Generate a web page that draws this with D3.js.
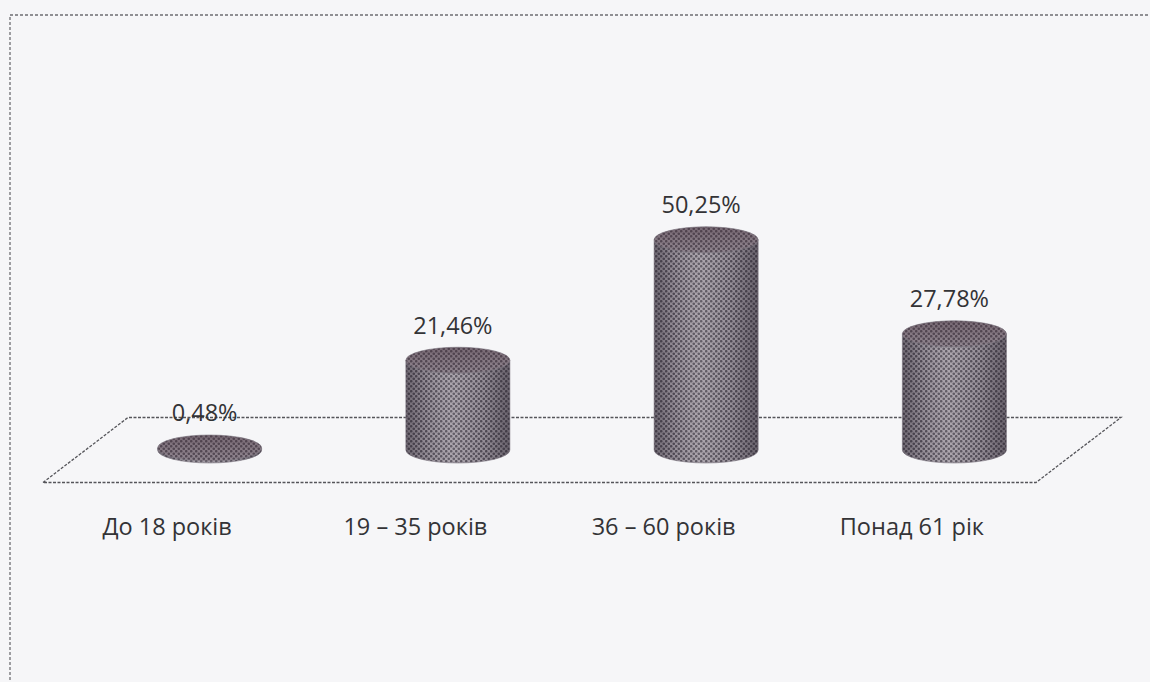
<!DOCTYPE html>
<html>
<head>
<meta charset="utf-8">
<script src="https://cdn.jsdelivr.net/npm/d3@7"></script>
<style>
  body { margin: 0; background: #f6f6f8; }
  #chart text { font-family: "Open Sans", sans-serif; fill: #333336; }
</style>
</head>
<body>
<div id="chart"></div>
<script>
//Chart data.
const categories = ["До 18 років", "19 – 35 років", "36 – 60 років", "Понад 61 рік"];
const values = [0.48, 21.46, 50.25, 27.78];
const yDomain = [0, 60];

//Sets the dimensions of the picture.
let w = 1150;
let h = 682;

//Floor of the 3d plot.
let floorLeft = 43;
let floorRight = 1036;
let floorDepth = 65;
let skew = 85;

//Cylinder size.
let rx = 52;
let ry = 13;

let xScale
let yScale

//Ukrainian number format with a decimal comma.
const ua = d3.formatLocale({ decimal: ",", thousands: " ", grouping: [3], currency: ["", " грн"] });
const fmt = ua.format(".2f");

const svg = d3.select("#chart")
  .append("svg")
  .attr("width", w)
  .attr("height", h)

getScales();
drawDefs();
drawFrame();
drawFloor();
drawCylinders();
addLabels();

function getScales() {
  //Categories sit along the front edge of the floor.
  xScale = d3.scaleBand()
    .domain(categories)
    .range([floorLeft, floorRight])
    .padding(0)

  //Heights of the cylinders.
  yScale = d3.scaleLinear()
    .domain(yDomain)
    .range([450, 199])
}

//Centre of a cylinder: halfway into the floor depth.
function cx(c) {
  return xScale(c) + xScale.bandwidth() / 2 + skew / 2;
}

function drawDefs() {
  const defs = svg.append("defs");

  //Dotted fill like the printed pattern.
  const pat = defs.append("pattern")
    .attr("id", "dots")
    .attr("width", 5)
    .attr("height", 5)
    .attr("patternUnits", "userSpaceOnUse")
  pat.append("rect").attr("width", 5).attr("height", 5).attr("fill", "#a39ca5")
  pat.append("circle").attr("cx", 1.25).attr("cy", 1.25).attr("r", 1.3).attr("fill", "#524c57")
  pat.append("circle").attr("cx", 3.75).attr("cy", 3.75).attr("r", 1.3).attr("fill", "#524c57")

  //Round shading of the body.
  const shade = defs.append("linearGradient")
    .attr("id", "shade")
    .attr("x1", 0).attr("x2", 1).attr("y1", 0).attr("y2", 0)
  shade.append("stop").attr("offset", "0%").attr("stop-color", "#2e2833").attr("stop-opacity", 0.45)
  shade.append("stop").attr("offset", "18%").attr("stop-color", "#2e2833").attr("stop-opacity", 0.15)
  shade.append("stop").attr("offset", "45%").attr("stop-color", "#ffffff").attr("stop-opacity", 0.1)
  shade.append("stop").attr("offset", "75%").attr("stop-color", "#2e2833").attr("stop-opacity", 0.12)
  shade.append("stop").attr("offset", "100%").attr("stop-color", "#2e2833").attr("stop-opacity", 0.5)

  //Top of the cylinder is a bit darker and warmer.
  const top = defs.append("linearGradient")
    .attr("id", "topshade")
    .attr("x1", 0).attr("x2", 0).attr("y1", 0).attr("y2", 1)
  top.append("stop").attr("offset", "0%").attr("stop-color", "#4a3440").attr("stop-opacity", 0.5)
  top.append("stop").attr("offset", "100%").attr("stop-color", "#5a4450").attr("stop-opacity", 0.25)
}

function drawFrame() {
  //Dashed frame round the chart, its right and bottom side are cut off.
  svg.append("rect")
    .attr("x", 10)
    .attr("y", 15)
    .attr("width", 1200)
    .attr("height", 750)
    .attr("fill", "none")
    .attr("stroke", "#6e6e72")
    .attr("stroke-width", 1.3)
    .attr("stroke-dasharray", "3,2")
}

function drawFloor() {
  let base = yScale(0);
  let front = base + floorDepth / 2;
  let back = base - floorDepth / 2;

  svg.append("path")
    .attr("id", "floor")
    .attr("d", "M" + floorLeft + "," + front
      + "L" + (floorLeft + skew) + "," + back
      + "L" + (floorRight + skew) + "," + back
      + "L" + floorRight + "," + front + "Z")
    .attr("fill", "none")
    .attr("stroke", "#55555a")
    .attr("stroke-width", 1.3)
    .attr("stroke-dasharray", "3,1.5")
}

function drawCylinders() {
  let base = yScale(0);
  const data = categories.map((c, i) => ({ c: c, v: values[i] }));

  const g = svg.selectAll(".cyl")
    .data(data)
    .enter()
    .append("g")
    .attr("class", "cyl")

  //Body: side walls and the front half of the bottom ellipse.
  const body = (d) => {
    let x0 = cx(d.c) - rx;
    let x1 = cx(d.c) + rx;
    let t = yScale(d.v);
    return "M" + x0 + "," + t + "L" + x0 + "," + base
      + "A" + rx + "," + ry + " 0 0 0 " + x1 + "," + base
      + "L" + x1 + "," + t + "Z";
  }

  g.append("path").attr("d", body).attr("fill", "url(#dots)")
  g.append("path").attr("d", body).attr("fill", "url(#shade)")
    .attr("stroke", "#7d7782").attr("stroke-width", 0.6)

  //Top ellipse.
  g.append("ellipse")
    .attr("cx", (d) => cx(d.c))
    .attr("cy", (d) => yScale(d.v))
    .attr("rx", rx)
    .attr("ry", ry)
    .attr("fill", "url(#dots)")
  g.append("ellipse")
    .attr("cx", (d) => cx(d.c))
    .attr("cy", (d) => yScale(d.v))
    .attr("rx", rx)
    .attr("ry", ry)
    .attr("fill", "url(#topshade)")
    .attr("stroke", "#7d7782")
    .attr("stroke-width", 0.6)
}

function addLabels() {
  //Value labels above the cylinders.
  svg.selectAll(".value")
    .data(values)
    .enter()
    .append("text")
    .attr("class", "value")
    .attr("x", (d, i) => cx(categories[i]) - 5)
    .attr("y", (d) => yScale(d) - 35)
    .attr("dy", "0.36em")
    .style("text-anchor", "middle")
    .style("font-size", "23.5px")
    .text((d) => fmt(d) + "%")

  //Category labels under the floor.
  svg.selectAll(".cat")
    .data(categories)
    .enter()
    .append("text")
    .attr("class", "cat")
    .attr("x", (d) => xScale(d) + xScale.bandwidth() / 2)
    .attr("y", 527)
    .attr("dy", "0.36em")
    .style("text-anchor", "middle")
    .style("font-size", "23.5px")
    .text((d) => d)
}
</script>
</body>
</html>
